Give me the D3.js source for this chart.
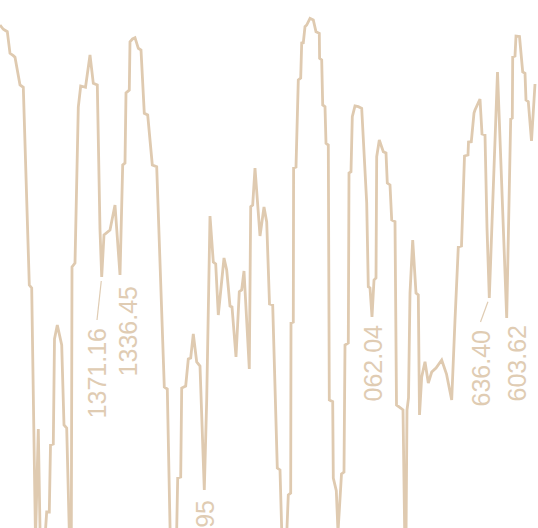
<!DOCTYPE html>
<html>
<head>
<meta charset="utf-8">
<script src="https://cdn.jsdelivr.net/npm/d3@7/dist/d3.min.js"></script>
<style>
  html, body { margin: 0; padding: 0; background: #ffffff; }
  svg { display: block; }
</style>
</head>
<body>
<div id="chart"></div>
<script>
// ---- data ----
const days = [
  0, 1.65, 3.65, 5, 6.65, 7.5, 10, 11.65, 14.65, 15.85,
  17.75, 19.15, 20.1, 22.25, 23.35, 24.65, 25.25, 26.65, 27.25, 28.65,
  30.85, 32, 33.35, 34.75, 35.65, 36, 37.5, 39.15, 40.35, 42.75,
  45, 46.65, 48.65, 50, 50.85, 52, 55, 57.5, 60, 61.35,
  62.5, 63, 64.65, 65, 66.25, 67.5, 69.15, 70.5, 72.15, 73.85,
  76.15, 78.35, 82.15, 83.65, 85.15, 88.25, 88.85, 90.35, 90.85, 92.85,
  94.15, 95.35, 96.65, 98.35, 100, 102.15, 103.35, 105, 106.65, 107.85,
  109.15, 112, 113.35, 115, 116, 118, 119.65, 120.85, 122, 124.65,
  125.35, 126.35, 127.5, 130, 132, 133.35, 134.75, 136.35, 138.65, 140,
  141, 143.25, 144.15, 145.35, 145.5, 146.65, 146.8, 148, 149.15, 150.35,
  150.85, 151.65, 152.5, 153.35, 155, 156.65, 158, 159.65, 159.8, 160.85,
  161.35, 162.5, 163, 164.15, 164.65, 166.35, 166.65, 168.15, 169, 170.75,
  172, 172.5, 174.15, 174.5, 175.5, 176.15, 177.5, 179.15, 180.85, 183.35,
  184.15, 185, 186, 187, 188, 188.35, 189.65, 191.65, 193, 193.65,
  195, 195.85, 197.5, 198.25, 200.35, 201.5, 202.4, 203, 203.5, 204.25,
  205, 206.35, 208, 209.15, 209.75, 210.85, 212.5, 214.15, 215.85, 218,
  220.85, 223.25, 225.85, 227.5, 229.15, 230.75, 232.25, 234, 234.25, 235.65,
  237, 237.5, 240, 241, 242.5, 243.5, 244.65, 248.75, 253.35, 255.35,
  256.15, 256.35, 257.5, 258, 259.75, 261.35, 262.5, 263, 264.15, 265.75,
  267.5
];
const values = [
  575, 570.7, 568.3, 546.7, 544.3, 542.7, 515, 512.7, 315, 312,
  60, 171, 60, 55, 88, 88, 155, 156, 261, 275,
  255, 175, 172, 60, 60, 333, 337, 493, 514, 512.7,
  545, 516.7, 515, 370, 323, 365, 370, 395, 325, 435,
  437, 507, 510, 558.3, 561, 562.3, 551.7, 550, 486.7, 485,
  435, 433.3, 213, 211, 60, 60, 122, 123, 212, 214,
  241, 242, 266, 238, 234, 110, 200, 384, 338, 336,
  285, 342, 330, 294, 293, 243, 308.3, 310, 329, 231,
  393.3, 395, 432, 364, 393, 378, 296, 295, 132, 130,
  60, 60, 105, 107, 277, 278, 432, 433, 520, 522,
  557, 557.3, 573.3, 575, 581.7, 580, 568.3, 566.7, 541.7, 540,
  495, 493.3, 456.7, 455, 200, 198.3, 122, 109.3, 68, 126,
  128, 255, 257, 427, 428.3, 483.3, 494, 493.3, 491.7, 397,
  313.3, 312, 283, 320, 322, 443.3, 460, 448.3, 447, 417,
  415, 380, 378.3, 195, 192, 190, 60, 60, 190, 202,
  307, 360, 307, 305, 185, 223, 238.3, 217, 228, 232,
  240, 226, 200, 280, 353, 354, 444, 445, 458, 458.3,
  487, 490, 501, 466, 465, 372, 302, 528, 282, 481,
  482, 543, 544, 564, 563.5, 528, 526.7, 500, 498.3, 459,
  516
];
const labelTexts = ["1371.16", "1336.45", "1182.95", "062.04", "636.40", "603.62"];
const labelIndex = [34, 38, 65, 132, 176, 178];

// ---- layout / style ----
const W = 538, H = 528;
const lineColor = "#dfcab0";
const textColor = "#e0ccb3";
const fontSize = 25;
// per-label nudges (px): [dx to baseline, dy to text top], and whether a leader is drawn
const labelNudge = [
  [4.3, 51, true],
  [16.5, 11, false],
  [10, 10, false],
  [9.5, 8, false],
  [0.2, 32, true],
  [19.3, 7, false]
];

const x = d3.scaleLinear().domain([0, 269]).range([0, 538]);
const y = d3.scaleLinear().domain([0, 600]).range([600, 0]);

const svg = d3.select("#chart").append("svg")
  .attr("width", W).attr("height", H)
  .style("background", "#ffffff");

const pts = days.map((d, i) => ({ t: d, v: values[i] }));

svg.append("path")
  .datum(pts)
  .attr("fill", "none")
  .attr("stroke", lineColor)
  .attr("stroke-width", 2.8)
  .attr("d", d3.line().x(d => x(d.t)).y(d => y(d.v)));

const g = svg.append("g");
labelTexts.forEach((txt, k) => {
  const p = pts[labelIndex[k]];
  const px = x(p.t), py = y(p.v);
  const [dx, dy, leader] = labelNudge[k];
  const bx = px + dx, ty = py + dy;
  g.append("text")
    .attr("transform", `translate(${bx},${ty}) rotate(-90)`)
    .attr("text-anchor", "end")
    .attr("fill", textColor)
    .style("font-family", "'Liberation Sans', Arial, Helvetica, sans-serif")
    .style("font-size", fontSize + "px")
    .text(txt);
  if (leader) {
    const tx = bx - fontSize * 0.36, tyy = ty - 8;
    const vx = tx - px, vy = tyy - py, len = Math.hypot(vx, vy);
    g.append("line")
      .attr("x1", px + vx / len * 4).attr("y1", py + vy / len * 4)
      .attr("x2", tx).attr("y2", tyy)
      .attr("stroke", textColor).attr("stroke-width", 1.2);
  }
});
</script>
</body>
</html>
